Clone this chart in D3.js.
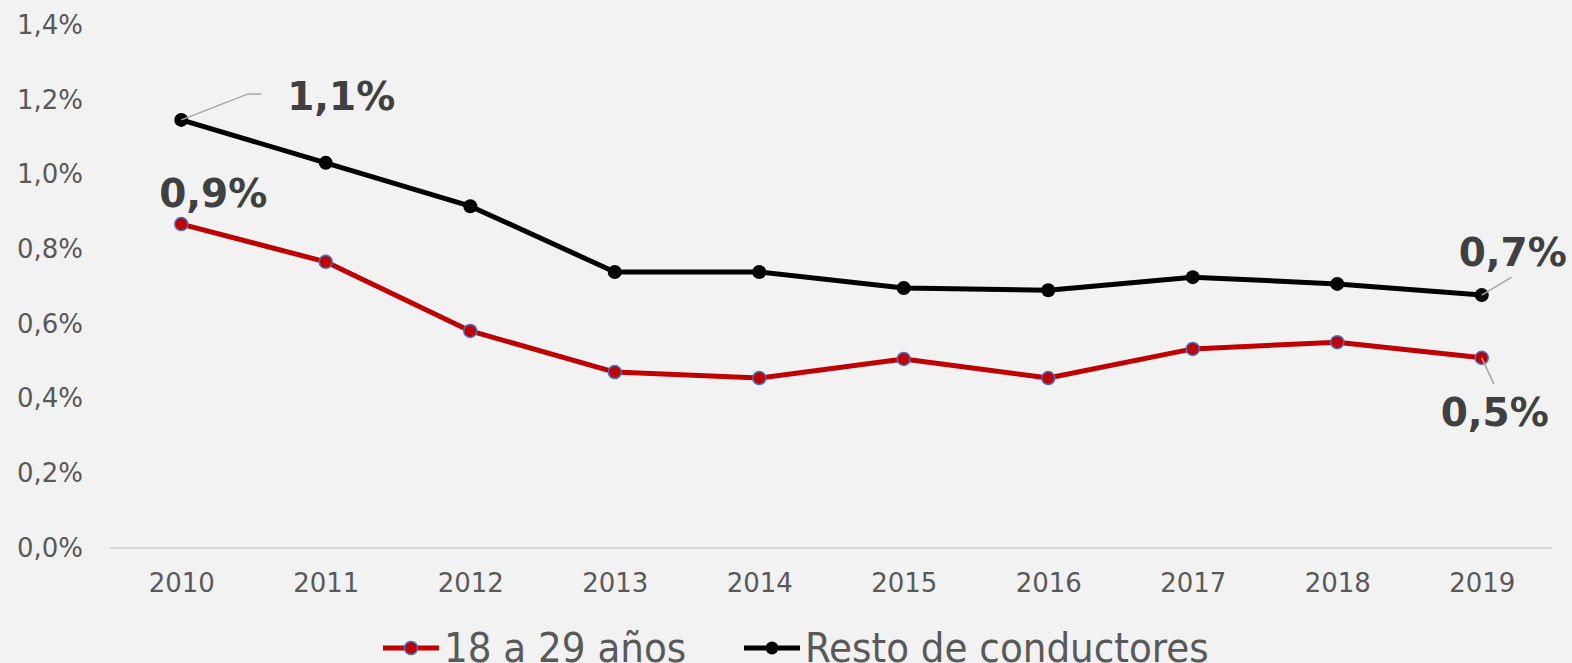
<!DOCTYPE html>
<html>
<head>
<meta charset="utf-8">
<script src="https://cdn.jsdelivr.net/npm/d3@7"></script>
<style>
  body { margin: 0; background: #f2f2f2; }
  svg { display: block; }
</style>
</head>
<body>
<div id="chart"></div>
<script>
var years = ["2010", "2011", "2012", "2013", "2014", "2015", "2016", "2017", "2018", "2019"];
var jovenes = [0.00867, 0.00766, 0.00581, 0.00471, 0.00455, 0.00506, 0.00455, 0.00533, 0.00551, 0.00509];
var resto = [0.01146, 0.01031, 0.00915, 0.00739, 0.00739, 0.00696, 0.00690, 0.00725, 0.00707, 0.00677];
var yTicks = [0, 0.002, 0.004, 0.006, 0.008, 0.010, 0.012, 0.014];
var seriesNames = ["18 a 29 años", "Resto de conductores"];

var width = 1572, height = 663;

var svg = d3.select("#chart").append("svg")
  .attr("width", width)
  .attr("height", height);

svg.append("rect").attr("width", width).attr("height", height).attr("fill", "#f2f2f2");

var x = d3.scalePoint().domain(years).range([109, 1554]).padding(0.5);
var y = d3.scaleLinear().domain([0, 0.014]).range([548, 25]);

var fmt = function(d) { return (d * 100).toFixed(1).replace(".", ",") + "%"; };

// y axis labels
var yAxis = svg.append("g")
  .attr("transform", "translate(83,0)")
  .call(d3.axisLeft(y).tickValues(yTicks).tickFormat(fmt).tickSize(0).tickPadding(0));
yAxis.select(".domain").remove();
yAxis.selectAll("text")
  .attr("font-family", "DejaVu Sans, Verdana, sans-serif")
  .attr("font-size", 26)
  .attr("fill", "#595959");

// x axis
var xAxis = svg.append("g")
  .attr("transform", "translate(0,548)")
  .call(d3.axisBottom(x).tickSize(0).tickPadding(26));
xAxis.select(".domain").remove();
xAxis.selectAll("text")
  .attr("font-family", "DejaVu Sans, Verdana, sans-serif")
  .attr("font-size", 26)
  .attr("fill", "#595959");

svg.append("line")
  .attr("x1", 110).attr("x2", 1552)
  .attr("y1", y(0)).attr("y2", y(0))
  .attr("stroke", "#d9d9d9").attr("stroke-width", 2);

var line = d3.line()
  .x(function(d, i) { return x(years[i]); })
  .y(function(d) { return y(d); });

// resto de conductores
svg.append("path").datum(resto)
  .attr("d", line)
  .attr("fill", "none").attr("stroke", "#000").attr("stroke-width", 5)
  .attr("stroke-linejoin", "round");
svg.selectAll(".dotResto").data(resto).enter().append("circle")
  .attr("class", "dotResto")
  .attr("cx", function(d, i) { return x(years[i]); })
  .attr("cy", function(d) { return y(d); })
  .attr("r", 7)
  .attr("fill", "#000");

// 18 a 29
svg.append("path").datum(jovenes)
  .attr("d", line)
  .attr("fill", "none").attr("stroke", "#c00000").attr("stroke-width", 5)
  .attr("stroke-linejoin", "round");
svg.selectAll(".dotJov").data(jovenes).enter().append("circle")
  .attr("class", "dotJov")
  .attr("cx", function(d, i) { return x(years[i]); })
  .attr("cy", function(d) { return y(d); })
  .attr("r", 6.5)
  .attr("fill", "#c00000")
  .attr("stroke", "#4472c4").attr("stroke-width", 1.5);

// data labels with leader lines
var labels = [
  { v: resto[0], i: 0, dx: 160, dy: -10, leader: [[0, 0], [67, -26], [80, -26]] },
  { v: jovenes[0], i: 0, dx: 32, dy: -17, leader: null },
  { v: resto[9], i: 9, dx: 31, dy: -29, leader: [[0, 0], [30, -18]] },
  { v: jovenes[9], i: 9, dx: 13, dy: 68, leader: [[0, 0], [12, 26]] }
];
labels.forEach(function(l) {
  var px = x(years[l.i]), py = y(l.v);
  if (l.leader) {
    svg.append("path")
      .attr("d", d3.line()(l.leader.map(function(p) { return [px + p[0], py + p[1]]; })))
      .attr("fill", "none").attr("stroke", "#a6a6a6").attr("stroke-width", 1.5);
  }
  svg.append("text")
    .attr("x", px + l.dx).attr("y", py + l.dy)
    .attr("text-anchor", "middle")
    .attr("font-family", "DejaVu Sans, Verdana, sans-serif")
    .attr("font-weight", "bold")
    .attr("font-size", 39)
    .attr("fill", "#404040")
    .text(fmt(l.v));
});

// legend
var legend = [
  { name: seriesNames[0], color: "#c00000", stroke: "#4472c4", x: 383 },
  { name: seriesNames[1], color: "#000", stroke: null, x: 744 }
];
legend.forEach(function(l) {
  var g = svg.append("g").attr("transform", "translate(" + l.x + ",648)");
  g.append("line").attr("x1", 0).attr("x2", 56).attr("stroke", l.color).attr("stroke-width", 5);
  g.append("circle").attr("cx", 28).attr("r", 6.5).attr("fill", l.color)
    .attr("stroke", l.stroke || "none").attr("stroke-width", 1.5);
  g.append("text").attr("x", 61).attr("y", 14)
    .attr("font-family", "DejaVu Sans Condensed, DejaVu Sans, sans-serif")
    .attr("font-stretch", "condensed")
    .attr("font-size", 41.5)
    .attr("fill", "#595959")
    .text(l.name);
});
</script>
</body>
</html>
